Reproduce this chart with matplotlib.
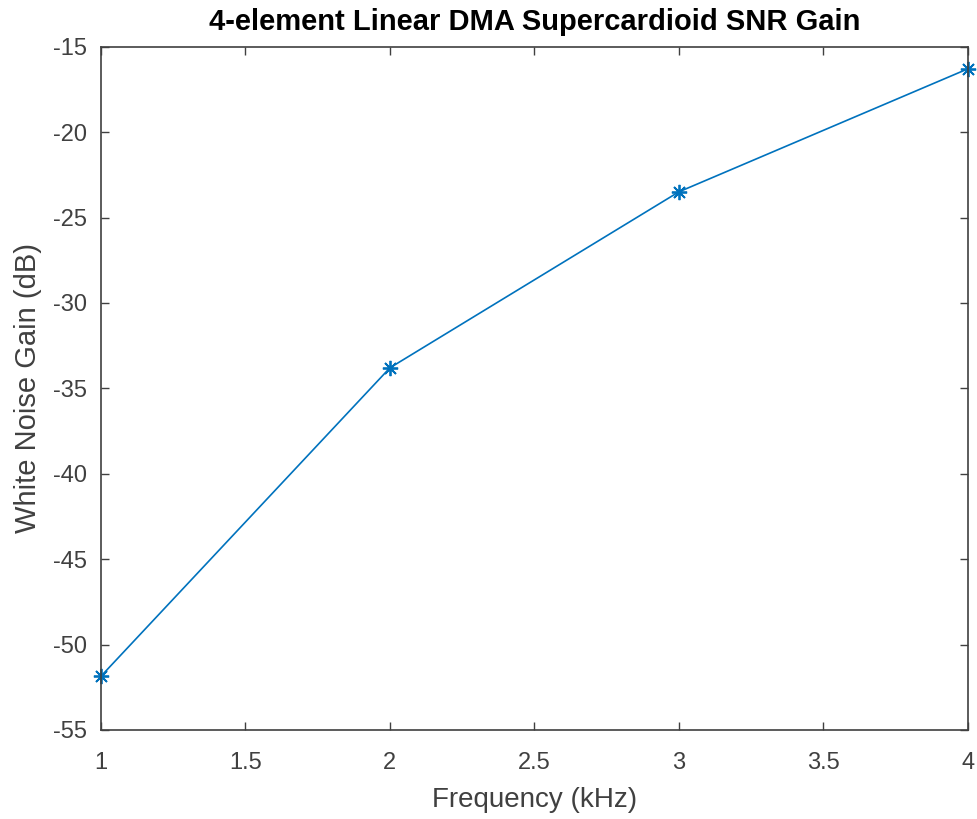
import matplotlib
matplotlib.use("Agg")
import matplotlib.pyplot as plt

freq_khz = [1, 2, 3, 4]
wng_db = [-51.85, -33.8, -23.5, -16.3]
x_ticks = [1, 1.5, 2, 2.5, 3, 3.5, 4]
y_ticks = [-55, -50, -45, -40, -35, -30, -25, -20, -15]

plt.rcParams['font.family'] = ['Liberation Sans', 'DejaVu Sans']
plt.rcParams['axes.unicode_minus'] = False
gray = '#404040'

fig = plt.figure(figsize=(9.77, 8.19), dpi=100)
ax = fig.add_axes([0.1034, 0.1087, 0.8871, 0.8343])

ax.plot(freq_khz, wng_db, color='#0072BD', linewidth=1.2, marker=(8, 2, 0),
        markersize=11, markeredgewidth=1.3, clip_on=False)

ax.set_xlim(1, 4)
ax.set_ylim(-55, -15)
ax.set_xticks(x_ticks)
ax.set_xticklabels(['1', '1.5', '2', '2.5', '3', '3.5', '4'])
ax.set_yticks(y_ticks)
ax.tick_params(direction='in', length=6, width=1, colors=gray, labelsize=17,
               top=True, right=True, labeltop=False, labelright=False)
ax.tick_params(axis='x', pad=16)
ax.tick_params(axis='y', pad=10)
for s in ax.spines.values():
    s.set_color(gray)
    s.set_linewidth(1.2)

ax.set_xlabel('Frequency (kHz)', fontsize=20, color=gray, labelpad=9)
ax.set_ylabel('White Noise Gain (dB)', fontsize=21, color=gray, labelpad=8)
ax.set_title('4-element Linear DMA Supercardioid SNR Gain', fontsize=21,
             fontweight='bold', color='black', pad=12)

fig.savefig('out.png', dpi=100)
